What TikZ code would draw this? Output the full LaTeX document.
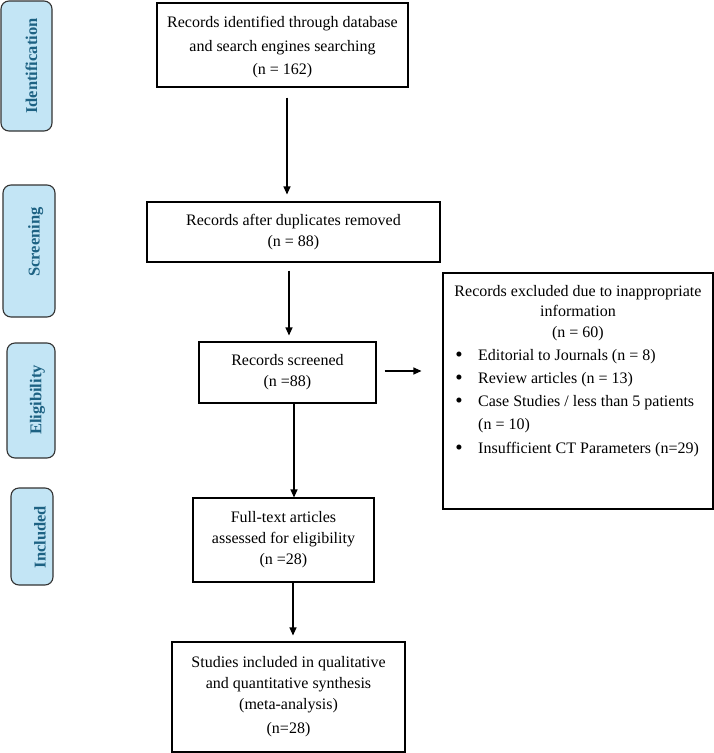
\documentclass[tikz,border=0pt]{standalone}
\usepackage{fontspec}
\setmainfont{Liberation Serif}
\usetikzlibrary{arrows.meta,calc}
\definecolor{sidefill}{HTML}{C3E5F5}
\definecolor{sidetext}{HTML}{1D6283}
\definecolor{sideedge}{HTML}{333333}
\newcommand\mainfnt{\fontsize{16}{21}\selectfont}
\newcommand\sidefnt{\fontsize{16.5}{18}\selectfont\bfseries}
\begin{document}
\begin{tikzpicture}[x=1pt,y=-1pt,
  box/.style={draw=black, line width=1.1pt, inner sep=0pt, align=center, font=\mainfnt},
  txt/.style={inner sep=0pt, align=center, font=\mainfnt},
  itm/.style={inner sep=0pt, anchor=west, font=\mainfnt, text height=11pt, text depth=4pt},
  bul/.style={inner sep=0pt, font=\fontsize{21}{21}\selectfont},
  arr/.style={line width=1.1pt, -{Triangle[length=8pt,width=7pt]}},
  sidebox/.style={draw=sideedge, fill=sidefill, line width=1.1pt, rounded corners=8pt, inner sep=0pt},
  sidelabel/.style={rotate=90, text=sidetext, font=\sidefnt, inner sep=0pt, text height=11pt, text depth=0pt}]
\useasboundingbox (0,0) rectangle (714,753);

% side stage boxes
\node[sidebox, minimum width=51, minimum height=130] (sIdent) at (26.5,66) {};
\node[sidelabel] (lIdent) at (31.5,66) {Identification};
\node[sidebox, minimum width=52, minimum height=132] (sScreen) at (29,251) {};
\node[sidelabel] (lScreen) at (34,242) {Screening};
\node[sidebox, minimum width=48, minimum height=115] (sElig) at (31,400.5) {};
\node[sidelabel] (lElig) at (36,400) {Eligibility};
\node[sidebox, minimum width=42, minimum height=97] (sIncl) at (32,536.5) {};
\node[sidelabel] (lIncl) at (40,537) {Included};

% main flow boxes
\node[box, minimum width=251, minimum height=84] (b1) at (282.5,45) {};
\node[txt, font=\fontsize{16}{23.5}\selectfont] (b1t) at (282.5,47.5)
  {Records identified through database\\and search engines searching\\(n = 162)};
\node[box, minimum width=293, minimum height=60] (b2) at (293.5,232)
  {Records after duplicates removed\\(n = 88)};
\node[box, minimum width=177, minimum height=61] (b3) at (287.5,372.5)
  {Records screened\\(n =88)};
\node[box, minimum width=181, minimum height=84] (b5) at (283.5,540)
  {Full-text articles\\assessed for eligibility\\(n =28)};
\node[box, minimum width=233, minimum height=110] (b6) at (288.5,697)
  {Studies included in qualitative\\and quantitative synthesis\\(meta-analysis)\\[3pt](n=28)};

% excluded box
\node[box, minimum width=270, minimum height=236] (b4) at (578,391) {};
\node[txt, font=\fontsize{16}{20.5}\selectfont] (b4t) at (578,313)
  {Records excluded due to inappropriate\\information\\(n = 60)};
\node[bul] (u1) at (459,357) {•};
\node[itm] (i1) at (478,357) {Editorial to Journals (n = 8)};
\node[bul] (u2) at (459,380) {•};
\node[itm] (i2) at (478,380) {Review articles (n = 13)};
\node[bul] (u3) at (459,403) {•};
\node[itm] (i3) at (478,403) {Case Studies / less than 5 patients};
\node[itm] (i3b) at (478,426) {(n = 10)};
\node[bul] (u4) at (459,450) {•};
\node[itm] (i4) at (478,450) {Insufficient CT Parameters (n=29)};

% connectors
\coordinate (c1) at (287,0);
\coordinate (c2) at (289,0);
\coordinate (c3) at (294,0);
\coordinate (c4) at (293,0);
\coordinate (cy) at (0,371);
\draw[arr, shorten <=10pt, shorten >=7pt] (b1.south -| c1) -- (b2.north -| c1);
\draw[arr, shorten <=8pt, shorten >=6pt] (b2.south -| c2) -- (b3.north -| c2);
\draw[arr] (b3.south -| c3) -- (b5.north -| c3);
\draw[arr, shorten >=6pt] (b5.south -| c4) -- (b6.north -| c4);
\draw[arr, shorten <=8pt, shorten >=21pt] (b3.east |- cy) -- (b4.west |- cy);
\end{tikzpicture}
\end{document}
